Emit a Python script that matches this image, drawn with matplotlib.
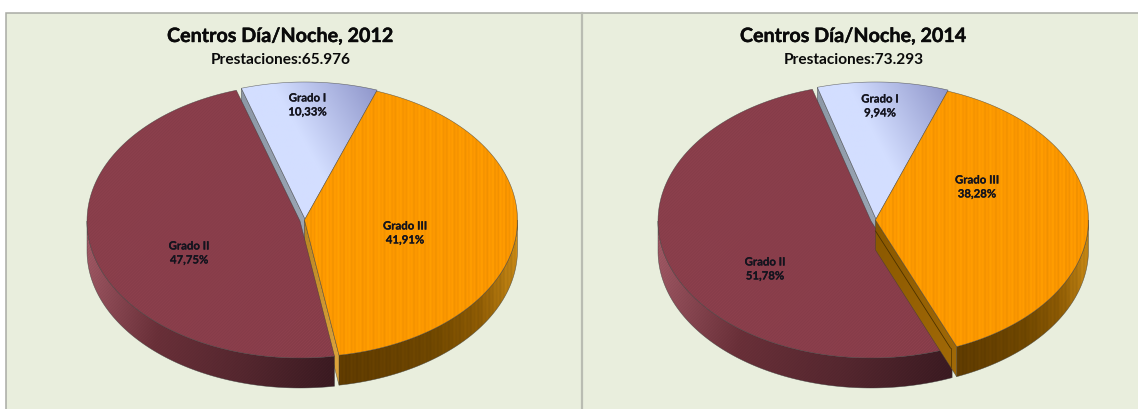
import numpy as np
import matplotlib
matplotlib.use("Agg")
import matplotlib.pyplot as plt
import matplotlib.patheffects as pe
from matplotlib.colors import LinearSegmentedColormap
from matplotlib.patches import Polygon, Rectangle

# Datos de prestaciones por grado
grados = ["Grado I", "Grado III", "Grado II"]
pct_2012 = [10.33, 41.91, 47.75]
pct_2014 = [9.94, 38.28, 51.78]
prestaciones_2012 = "65.976"
prestaciones_2014 = "73.293"
anios = [2012, 2014]

PANEL = "#e9eedd"
BORDER = "#a9aba4"
RX, RY, DEPTH = 213, 137, 30
FONT = "Lato"

fig = plt.figure(figsize=(11.38, 4.09), dpi=100, facecolor="white")
ax = fig.add_axes([0, 0, 1, 1])
ax.set_xlim(0, 1138)
ax.set_ylim(409, 0)
ax.axis("off")


def texture(x0, x1, y0, y1, stops, direction, kind):
    """Gradient image in pixel coordinates, optionally with a fine weave."""
    w, h = int(x1 - x0) + 1, int(y1 - y0) + 1
    xx, yy = np.meshgrid(np.arange(w), np.arange(h))
    dx, dy = direction
    t = (xx / max(w - 1, 1)) * dx + (yy / max(h - 1, 1)) * dy
    t = (t - t.min()) / (t.max() - t.min())
    rgb = LinearSegmentedColormap.from_list("f", stops)(t)[..., :3]
    if kind == "stripes":
        rgb = rgb * (1 + 0.03 * np.sin(xx * 1.7) + 0.02 * np.sin(xx * 0.61))[..., None]
    elif kind == "weave":
        rgb = rgb * (1 + 0.03 * (((xx + yy) % 3 == 0) * 2 - 1))[..., None]
    return np.clip(rgb, 0, 1)


def fill(poly, stops, direction=(1, 0), kind=None, z=1):
    """Paint a polygon with a clipped gradient and a thin outline."""
    poly = np.asarray(poly)
    x0, y0 = np.floor(poly.min(axis=0))
    x1, y1 = np.ceil(poly.max(axis=0))
    im = ax.imshow(texture(x0, x1, y0, y1, stops, direction, kind),
                   extent=(x0, x1, y1, y0), zorder=z, interpolation="bilinear", aspect="auto")
    patch = Polygon(poly, closed=True, transform=ax.transData)
    im.set_clip_path(patch)
    ax.add_patch(Polygon(poly, closed=True, fill=False, ec="#3a3a3a", lw=0.4, alpha=0.7, zorder=z + 0.1))


def rim(c, deg):
    t = np.radians(deg)
    return np.column_stack([c[0] + RX * np.sin(t), c[1] - RY * np.cos(t)])


def top_face(c, a0, a1):
    return np.vstack([[c], rim(c, np.linspace(a0, a1, 120))])


def outer_side(c, a0, a1):
    lo, hi = max(a0, 90), min(a1, 270)
    upper = rim(c, np.linspace(lo, hi, 120))
    lower = upper + [0, DEPTH]
    return np.vstack([upper, lower[::-1]])


def cut_face(c, a):
    p = rim(c, np.array([a]))[0]
    return np.array([c, p, p + [0, DEPTH], np.array(c) + [0, DEPTH]])


def draw_pie(year, pct, total, cx, cut_on_top, cut_stops, title_x, label_pos):
    # El sector naranja arranca a unos 20 grados de la vertical, en sentido horario
    start = 19.8
    sweep = [p * 3.6 for p in pct]
    a_i = start - sweep[0]
    a_iii = start + sweep[1]
    c_i = (cx + 3, 219)
    c_iii = (cx + 2.5, 220)
    c_ii = (cx - 2, 221)

    grey = cut_face(c_i, a_i)
    fill(grey, ["#8d98a6", "#9aa5b4"], z=1)
    fill(top_face(c_i, a_i, start), ["#d3deff", "#d3deff", "#8d94c9"], (1.0, -0.55), z=2)

    side_ii = (["#a25a66", "#6a3039", "#55272f", "#3a1a21"], (1, 0.15), "weave")
    side_iii = (["#5f3b00", "#664000", "#6f4700", "#8c5a04", "#c98a16"], (1, -0.1), "stripes")
    top_ii = (["#8b3f4c", "#8a3e4b"], (1, 0), "weave")
    top_iii = (["#ff9a00", "#fb9700"], (1, 0), "stripes")
    cut = cut_face(c_iii, a_iii)

    if cut_on_top:
        fill(outer_side(c_ii, a_iii, a_i + 360), side_ii[0], side_ii[1], side_ii[2], z=3)
        fill(top_face(c_ii, a_iii, a_i + 360), *top_ii, z=4)
        fill(outer_side(c_iii, start, a_iii), side_iii[0], side_iii[1], side_iii[2], z=5)
        fill(cut, cut_stops, (1, 1), z=6)
        # Arista interior visible sobre la cara de corte
        inner = cut[:2] + [0, 11]
        inner[1] = inner[0] + (inner[1] - inner[0]) * 0.925
        ax.plot(inner[:, 0], inner[:, 1], color="#4d3200", lw=0.6, zorder=6.5)
        ax.plot([inner[1, 0], inner[1, 0]], [inner[1, 1], inner[1, 1] + 19],
                color="#4d3200", lw=0.5, zorder=6.5)
        fill(top_face(c_iii, start, a_iii), *top_iii, z=7)
    else:
        fill(outer_side(c_iii, start, a_iii), side_iii[0], side_iii[1], side_iii[2], z=3)
        fill(cut, cut_stops, (1, 1), z=4)
        fill(top_face(c_iii, start, a_iii), *top_iii, z=5)
        fill(outer_side(c_ii, a_iii, a_i + 360), side_ii[0], side_ii[1], side_ii[2], z=6)
        fill(top_face(c_ii, a_iii, a_i + 360), *top_ii, z=7)

    ax.text(title_x, 36, f"Centros Día/Noche, {year}", ha="center", va="center",
            fontsize=14.2, fontweight="bold", family=FONT, color="#0a0a0a", zorder=10,
            path_effects=[pe.withStroke(linewidth=0.3, foreground="#0a0a0a")])
    ax.text(title_x, 60, f"Prestaciones:{total}", ha="center", va="center",
            fontsize=11.1, fontweight="bold", family=FONT, color="#0a0a0a", zorder=10)
    for name, value, (lx, ly) in zip(grados, pct, label_pos):
        text = f"{name}\n{value:.2f}".replace(".", ",") + "%"
        ax.text(lx, ly, text, ha="center", va="center", fontsize=8.2, fontweight="bold",
                family=FONT, color="#14141e", linespacing=1.33, zorder=10,
                path_effects=[pe.withStroke(linewidth=0.12, foreground="#14141e")])


# Fondo de los dos paneles
ax.add_patch(Rectangle((6, 12.5), 1140, 410, fc=PANEL, ec=BORDER, lw=1.1, zorder=0))
ax.plot([582, 582], [12.5, 409], color="#b9bcb2", lw=1.6, zorder=0.5)

draw_pie(anios[0], pct_2012, prestaciones_2012, 302, False,
         ["#b98522", "#e0a63e"], 280.5, [(307.5, 105), (405, 233), (189, 253)])
draw_pie(anios[1], pct_2014, prestaciones_2014, 873, True,
         ["#8a5800", "#a26a08"], 853.5, [(880, 106), (977, 187), (765, 269)])

ax.set_xlim(0, 1138)
ax.set_ylim(409, 0)
fig.savefig("out.png", dpi=100, facecolor="white")
